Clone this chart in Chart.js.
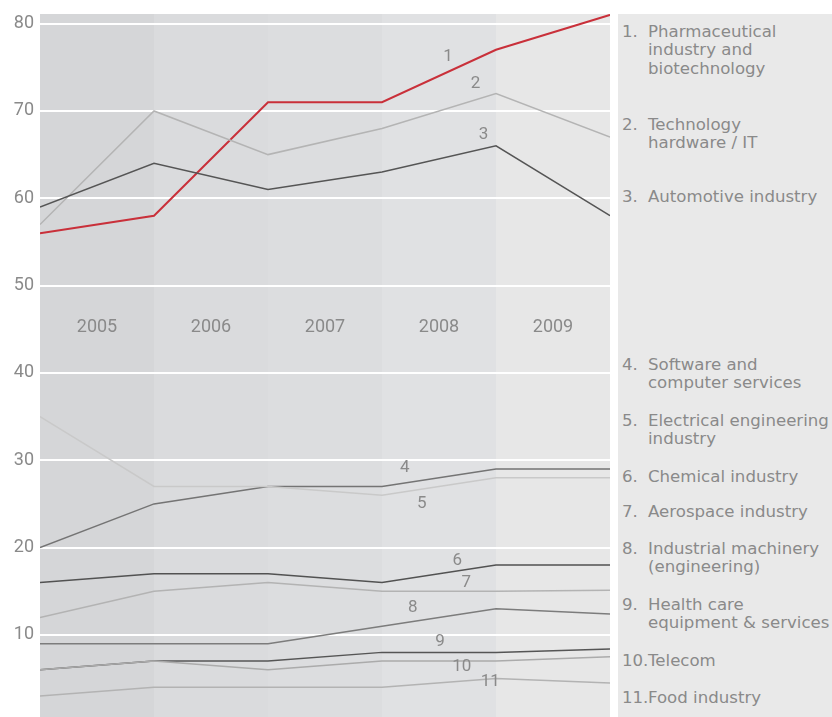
<!DOCTYPE html>
<html>
<head>
<meta charset="utf-8">
<script src="https://cdn.jsdelivr.net/npm/chart.js@4.4.1/dist/chart.umd.min.js"></script>
<style>
  html, body { margin: 0; padding: 0; background: #ffffff; }
  #wrap { position: relative; width: 832px; height: 717px; overflow: hidden; }
  #c { position: absolute; left: 0; top: 0; }
  #legend { position: absolute; left: 618px; top: 14px; width: 214px; height: 703px; background: #e9e9e9;
            font-family: "DejaVu Sans", Verdana, sans-serif; font-size: 16.6px; color: #8a8a8a; line-height: 18.5px; }
  .item { position: absolute; left: 0; width: 214px; white-space: nowrap; }
  .num { position: absolute; left: 4px; top: 0; }
  .txt { position: absolute; left: 30px; top: 0; }
</style>
</head>
<body>
<div id="wrap">
  <canvas id="c" width="832" height="717"></canvas>
  <div id="legend"></div>
</div>
<script>
// ---- data ----
const years = ['2005', '2006', '2007', '2008', '2009'];
const pointPositions = [0, 1, 2, 3, 4, 5];
const seriesNames = [
  'Pharmaceutical industry and biotechnology',
  'Technology hardware / IT',
  'Automotive industry',
  'Software and computer services',
  'Electrical engineering industry',
  'Chemical industry',
  'Aerospace industry',
  'Industrial machinery (engineering)',
  'Health care equipment & services',
  'Telecom',
  'Food industry'
];
const legendLines = [
  ['Pharmaceutical', 'industry and', 'biotechnology'],
  ['Technology', 'hardware / IT'],
  ['Automotive industry'],
  ['Software and', 'computer services'],
  ['Electrical engineering', 'industry'],
  ['Chemical industry'],
  ['Aerospace industry'],
  ['Industrial machinery', '(engineering)'],
  ['Health care', 'equipment & services'],
  ['Telecom'],
  ['Food industry']
];
const s1  = [56, 58, 71, 71, 77, 81];
const s2  = [57, 70, 65, 68, 72, 67];
const s3  = [59, 64, 61, 63, 66, 58];
const s4  = [20, 25, 27, 27, 29, 29];
const s5  = [35, 27, 27, 26, 28, 28];
const s6  = [16, 17, 17, 16, 18, 18];
const s7  = [12, 15, 16, 15, 15, 15.1];
const s8  = [9, 9, 9, 11, 13, 12.4];
const s9  = [6, 7, 7, 8, 8, 8.4];
const s10 = [6, 7, 6, 7, 7, 7.5];
const s11 = [3, 4, 4, 4, 5, 4.5];
const seriesValues = [s1, s2, s3, s4, s5, s6, s7, s8, s9, s10, s11];
const yTicks = [10, 20, 30, 40, 50, 60, 70, 80];

// ---- styles / layout ----
const lineColors = ['#c9303a', '#b4b4b4', '#555555', '#747474', '#c9c9c9', '#525252',
                    '#b3b3b3', '#7c7c7c', '#555555', '#ababab', '#b3b3b3'];
const lineWidths = [2, 1.5, 1.5, 1.5, 1.5, 1.5, 1.5, 1.5, 1.5, 1.5, 1.5];
const columnColors = ['#d5d6d8', '#dadbdd', '#dcdddf', '#e0e1e3', '#e7e7e7'];
// label anchor positions (x index, y value)
const labelAnchors = [[3.58, 76.2], [3.82, 73.1], [3.89, 67.3], [3.20, 29.1], [3.35, 25.0],
                      [3.66, 18.5], [3.74, 16.0], [3.27, 13.1], [3.51, 9.2], [3.70, 6.4], [3.95, 4.6]];
const yearLabelValue = 45.15;
const legendCenters = [32, 125, 197, 365, 421, 477, 512, 549, 605, 661, 698];

// ---- legend (HTML) ----
const legendEl = document.getElementById('legend');
legendLines.forEach((lines, i) => {
  const d = document.createElement('div');
  d.className = 'item';
  d.style.top = (legendCenters[i] - 14 - 9.25) + 'px';
  const n = document.createElement('span');
  n.className = 'num';
  n.textContent = (i + 1) + '.';
  const t = document.createElement('span');
  t.className = 'txt';
  t.innerHTML = lines.map(s => s.replace(/&/g, '&amp;')).join('<br>');
  t.title = seriesNames[i];
  d.appendChild(n); d.appendChild(t);
  legendEl.appendChild(d);
});

// ---- chart ----
const bgPlugin = {
  id: 'columns',
  beforeDraw(chart) {
    const { ctx, chartArea, scales } = chart;
    ctx.save();
    for (let i = 0; i < years.length; i++) {
      const x0 = scales.x.getPixelForValue(pointPositions[i]);
      const x1 = scales.x.getPixelForValue(pointPositions[i + 1]);
      ctx.fillStyle = columnColors[i];
      ctx.fillRect(x0, chartArea.top, x1 - x0, chartArea.bottom - chartArea.top);
    }
    ctx.restore();
  },
  beforeDatasetsDraw(chart) {
    const { ctx, scales } = chart;
    ctx.save();
    ctx.font = '18px Roboto';
    ctx.fillStyle = '#8a8a8a';
    ctx.textAlign = 'center';
    ctx.textBaseline = 'middle';
    years.forEach((y, i) => {
      const x = scales.x.getPixelForValue((pointPositions[i] + pointPositions[i + 1]) / 2);
      ctx.fillText(y, x, scales.y.getPixelForValue(yearLabelValue));
    });
    ctx.restore();
  },
  afterDatasetsDraw(chart) {
    const { ctx, scales } = chart;
    ctx.save();
    ctx.font = '17px Roboto';
    ctx.fillStyle = '#8a8a8a';
    ctx.textAlign = 'center';
    ctx.textBaseline = 'middle';
    labelAnchors.forEach((a, i) => {
      ctx.fillText(String(i + 1), scales.x.getPixelForValue(a[0]), scales.y.getPixelForValue(a[1]));
    });
    ctx.restore();
  }
};

const datasets = seriesValues.map((vals, i) => ({
  label: seriesNames[i],
  data: vals.map((v, j) => ({ x: pointPositions[j], y: v })),
  borderColor: lineColors[i],
  borderWidth: lineWidths[i],
  pointRadius: 0,
  tension: 0,
  fill: false
})).reverse();

new Chart(document.getElementById('c'), {
  type: 'line',
  data: { datasets },
  options: {
    responsive: false,
    devicePixelRatio: 1,
    animation: false,
    layout: { padding: { top: 14, right: 222, bottom: 0, left: 0 } },
    plugins: { legend: { display: false }, tooltip: { enabled: false } },
    scales: {
      x: {
        type: 'linear', min: 0, max: 5, display: false
      },
      y: {
        min: 0.6, max: 81.1,
        afterFit(scale) { scale.width = 40; scale.paddingTop = 0; scale.paddingBottom = 0; },
        afterBuildTicks(scale) { scale.ticks = yTicks.map(v => ({ value: v })); },
        border: { display: false },
        grid: { color: '#ffffff', lineWidth: 2, drawTicks: false },
        ticks: { color: '#8a8a8a', font: { family: 'Roboto', size: 18 }, padding: 6 }
      }
    }
  },
  plugins: [bgPlugin]
});
</script>
</body>
</html>
